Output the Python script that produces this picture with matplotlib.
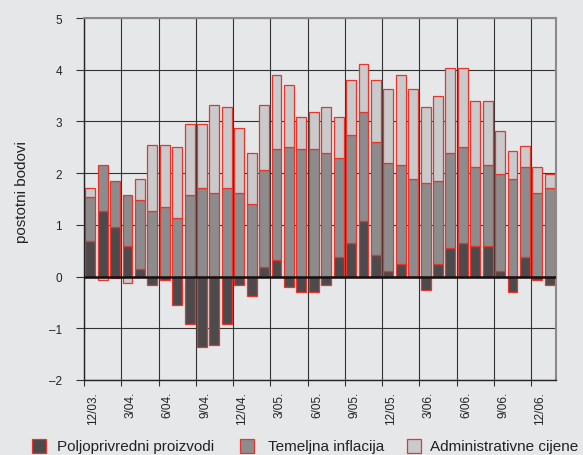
import numpy as np
import matplotlib.pyplot as plt
from matplotlib.patches import Rectangle

plt.rcParams['font.family'] = ['Liberation Sans', 'DejaVu Sans']

# monthly data, 12/03 .. 1/07 (postotni bodovi)
months = ["12/03.", "1/04.", "2/04.", "3/04.", "4/04.", "5/04.", "6/04.", "7/04.", "8/04.",
          "9/04.", "10/04.", "11/04.", "12/04.", "1/05.", "2/05.", "3/05.", "4/05.", "5/05.",
          "6/05.", "7/05.", "8/05.", "9/05.", "10/05.", "11/05.", "12/05.", "1/06.", "2/06.",
          "3/06.", "4/06.", "5/06.", "6/06.", "7/06.", "8/06.", "9/06.", "10/06.", "11/06.",
          "12/06.", "1/07."]
poljoprivredni = [0.68, 1.26, 0.95, 0.59, 0.15, -0.16, -0.06, -0.55, -0.92, -1.37,
                  -1.32, -0.92, -0.16, -0.38, 0.19, 0.33, -0.21, -0.30, -0.30, -0.16,
                  0.37, 0.64, 1.08, 0.41, 0.10, 0.24, 0.0, -0.25, 0.24, 0.55,
                  0.64, 0.59, 0.59, 0.10, -0.30, 0.37, -0.07, -0.16]
temeljna = [0.86, 0.89, 0.90, 0.98, 1.34, 1.26, 1.35, 1.13, 1.57, 1.71,
            1.62, 1.71, 1.62, 1.40, 1.87, 2.13, 2.51, 2.46, 2.46, 2.38,
            1.92, 2.10, 2.10, 2.19, 2.10, 1.91, 1.89, 1.80, 1.61, 1.83,
            1.87, 1.52, 1.56, 1.88, 1.89, 1.74, 1.62, 1.71]
administrativne = [0.17, -0.07, -0.02, -0.12, 0.40, 1.29, 1.20, 1.38, 1.38, 1.24,
                   1.70, 1.56, 1.25, 0.98, 1.26, 1.43, 1.20, 0.63, 0.72, 0.89,
                   0.80, 1.06, 0.94, 1.20, 1.43, 1.74, 1.74, 1.47, 1.64, 1.65,
                   1.52, 1.29, 1.25, 0.84, 0.54, 0.41, 0.49, 0.27]
tick_labels = months[::3]
y_labels = ["\u20132", "\u20131", "0", "1", "2", "3", "4", "5"]

names = ["Poljoprivredni proizvodi", "Temeljna inflacija", "Administrativne cijene"]
colors = ["#4b4b4d", "#8b8c8e", "#c9cacc"]
red = "#e8352b"
bg = "#e6e7e9"

fig = plt.figure(figsize=(5.83, 4.56), dpi=100, facecolor=bg)
W, H = 583., 456.
ax = fig.add_axes([84 / W, 1 - 381 / H, (556 - 84) / W, (381 - 19) / H])
ax.set_facecolor(bg)

x = np.arange(len(months)) + 0.5
pos = np.zeros(len(months))
neg = np.zeros(len(months))
for vals, c in zip([poljoprivredni, temeljna, administrativne], colors):
    v = np.array(vals)
    bottom = np.where(v >= 0, pos, neg)
    ax.bar(x, v, 0.8, bottom=bottom, color=c, edgecolor=red, linewidth=0.9, zorder=2)
    pos = pos + np.where(v >= 0, v, 0)
    neg = neg + np.where(v < 0, v, 0)

ax.set_xlim(0, len(months))
ax.set_ylim(-2, 5)
ax.set_axisbelow(True)

# quarterly ticks / grid
ax.set_xticks(np.arange(0, len(months), 3))
ax.set_xticklabels([])
ax.set_xticks(np.arange(0, len(months), 3) + 0.75, minor=True)
ax.set_xticklabels(tick_labels, minor=True, rotation=90, fontsize=8.5, color="#222222")
ax.tick_params(axis='x', which='major', length=4.5, width=0.8, color="#333333")
ax.tick_params(axis='x', which='minor', length=0, pad=8)
ax.set_yticks(np.arange(-2, 6))
ax.set_yticklabels(y_labels, fontsize=8.5, color="#222222")
ax.tick_params(axis='y', length=5.8, width=0.8, color="#333333", pad=10)
ax.grid(True, which='major', color="#333333", linewidth=0.8)

ax.axhline(0, color="#111111", linewidth=1.8, zorder=3)
for s in ["top", "right"]:
    ax.spines[s].set_color("#8a8a8a")
    ax.spines[s].set_linewidth(1.5)
for s in ["left", "bottom"]:
    ax.spines[s].set_color("#222222")
    ax.spines[s].set_linewidth(1.0)

fig.text(21.7 / W, 1 - 192 / H, "postotni bodovi", rotation=90, ha='center', va='center',
         fontsize=11, color="#222222")

# legend along the bottom edge
sq_x = [31.7, 240, 407]
txt_x = [57, 268, 430]
for sx, tx, c, n in zip(sq_x, txt_x, colors, names):
    fig.add_artist(Rectangle((sx / W, 1 - 454 / H), 14 / W, 14 / H, transform=fig.transFigure,
                             facecolor=c, edgecolor=red, linewidth=0.9))
    fig.text(tx / W, 1 - 451.5 / H, n, ha='left', va='baseline', fontsize=11, color="#222222")

fig.savefig("out.png", dpi=100, facecolor=bg)
